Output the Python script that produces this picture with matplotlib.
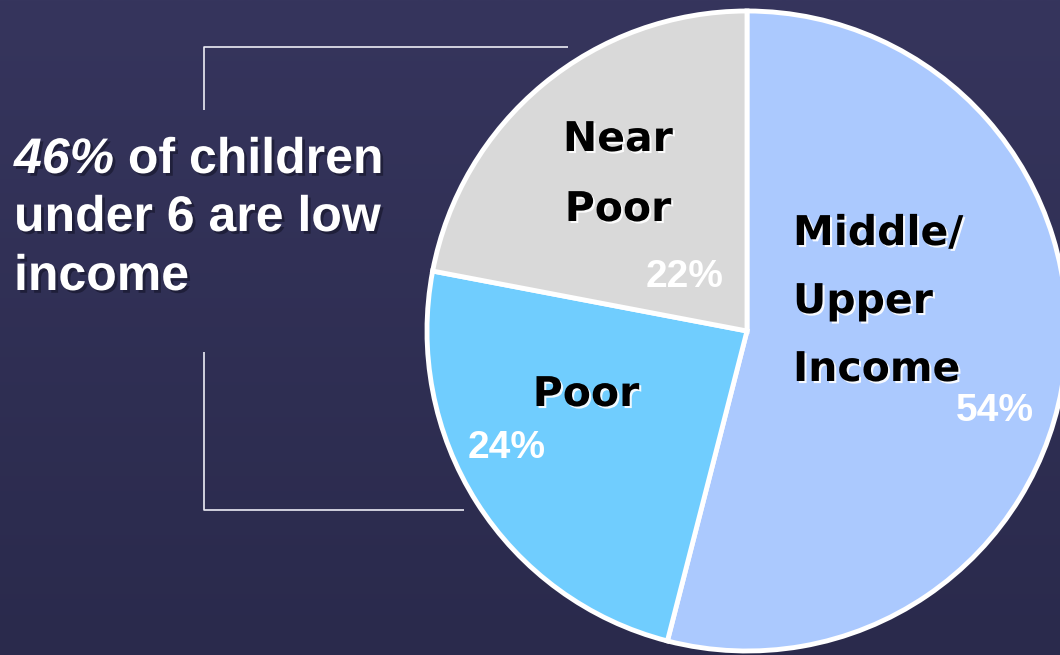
import matplotlib
matplotlib.use("Agg")
import matplotlib.pyplot as plt
import matplotlib.patheffects as pe
from matplotlib.colors import LinearSegmentedColormap
import numpy as np

W, H = 1060, 655

# pie data
categories = ["Middle/\nUpper\nIncome", "Poor", "Near\nPoor"]
shares = [54, 24, 22]
colors = ["#abc9fe", "#70cdfe", "#d9d9d9"]

# side note
headline = "46%"
caption_lines = [" of children", "under 6 are low", "income"]

fig = plt.figure(figsize=(W / 100, H / 100), dpi=100)

# background axes in pixel units (y down)
bg = fig.add_axes([0, 0, 1, 1])
bg.set_xlim(0, W)
bg.set_ylim(H, 0)
bg.axis("off")
grad = np.linspace(0, 1, 256).reshape(-1, 1)
cmap = LinearSegmentedColormap.from_list("slide", ["#36355d", "#2a2a4c"])
bg.imshow(grad, extent=[0, W, H, 0], aspect="auto", cmap=cmap, zorder=0)

# bracket around the note
line_kw = dict(color="#ececf4", lw=1.2, solid_capstyle="butt")
bg.plot([568, 204, 204], [47, 47, 110], **line_kw)
bg.plot([204, 204, 464], [352, 510, 510], **line_kw)

# the pie
cx, cy, r = 747, 331, 320
pax = fig.add_axes([(cx - r) / W, (H - cy - r) / H, 2 * r / W, 2 * r / H])
wedges, _ = pax.pie(shares, colors=colors, startangle=90, counterclock=False,
                    radius=1, wedgeprops=dict(edgecolor="white", linewidth=3.5))
pax.set_xlim(-1, 1)
pax.set_ylim(-1, 1)
for w in wedges:
    w.set_clip_on(False)

# overlay for labels
top = fig.add_axes([0, 0, 1, 1])
top.set_xlim(0, W)
top.set_ylim(H, 0)
top.axis("off")

name_fx = [pe.withSimplePatchShadow(offset=(1.5, -1.5), shadow_rgbFace="white", alpha=0.9)]
name_pos = [(793, "left", [245, 313, 381]),
            (586, "center", [406]),
            (618, "center", [151, 221])]
pct_pos = [(1034, "right", 421),
           (468, "left", 458),
           (685, "center", 287)]

for name, value, (nx, nha, nys), (px, pha, py) in zip(categories, shares, name_pos, pct_pos):
    for word, y in zip(name.split("\n"), nys):
        top.text(nx, y, word, ha=nha, va="baseline", fontsize=29.5,
                 fontweight="bold", family="DejaVu Sans", color="black",
                 path_effects=name_fx)
    top.text(px, py, f"{value}%", ha=pha, va="baseline", fontsize=28,
             fontweight="bold", family="Liberation Sans", color="white")

# note text
note_fx = [pe.withSimplePatchShadow(offset=(2, -2), shadow_rgbFace="#141428", alpha=0.6)]
note_kw = dict(fontsize=36, fontweight="bold", family="Liberation Sans",
               color="white", path_effects=note_fx)
t1 = top.text(14, 173, headline, ha="left", va="baseline", style="italic", **note_kw)
top.annotate(caption_lines[0], xy=(1, 0), xycoords=t1, ha="left", va="bottom", **note_kw)
for line, y in zip(caption_lines[1:], [231, 290]):
    top.text(14, y, line, ha="left", va="baseline", **note_kw)

fig.savefig("out.png", dpi=100)
